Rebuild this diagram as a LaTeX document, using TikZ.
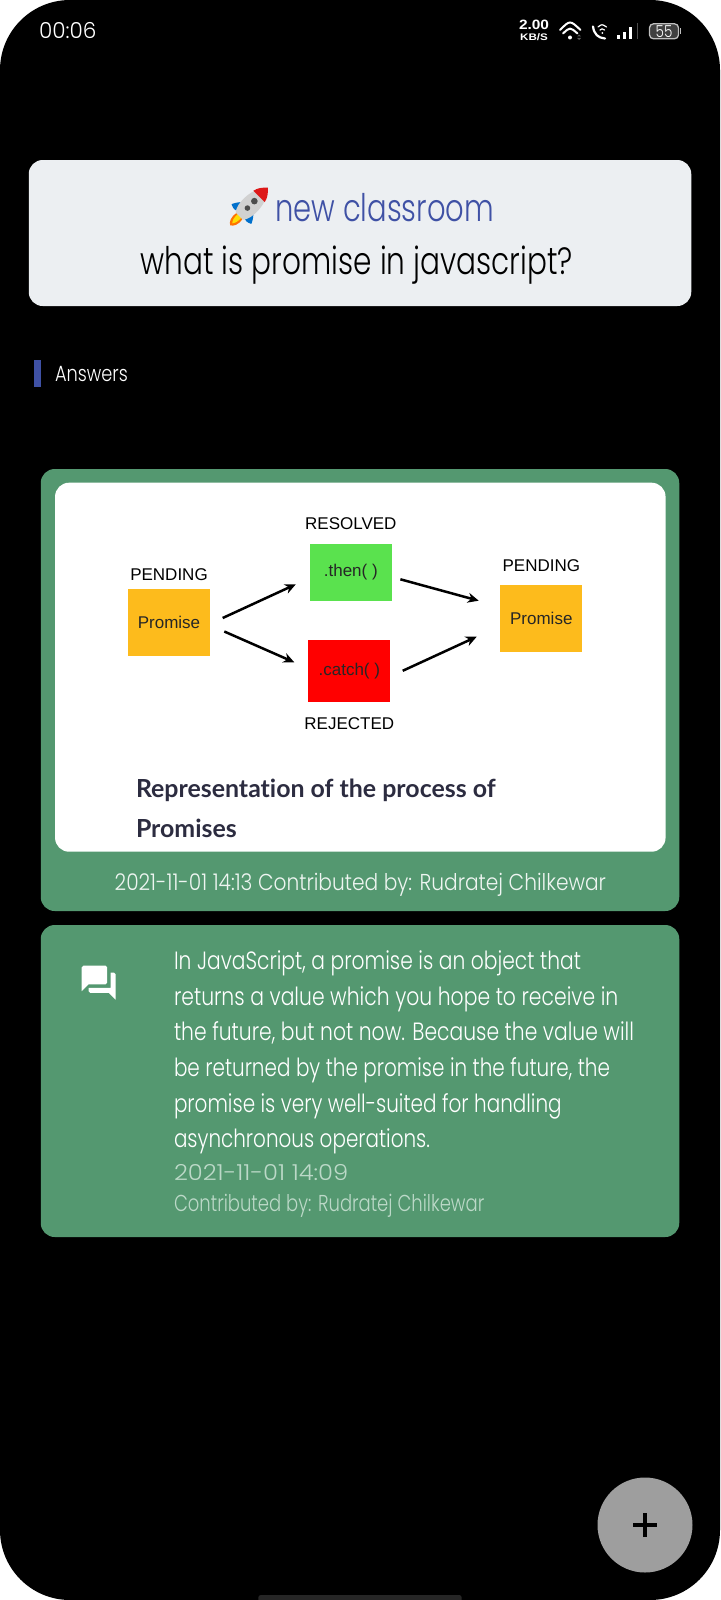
\documentclass[tikz,border=0pt]{standalone}
\usepackage{fontspec}
\usepackage{graphicx}
\setmainfont{Liberation Sans}
\newfontfamily\thinfont{Poppins Light}
\newfontfamily\capfont{Lato}[Ligatures=NoCommon]
\usetikzlibrary{arrows.meta,positioning}
\definecolor{cardgreen}{HTML}{549870}
\definecolor{indigo}{HTML}{3F51A5}
\definecolor{panelgrey}{HTML}{ECEFF2}
\definecolor{amber}{HTML}{FDBB1C}
\definecolor{limeok}{HTML}{5AE24E}
\definecolor{metagreen}{HTML}{BCD9C8}
\definecolor{capink}{HTML}{2C2C40}
\newcommand{\fs}[1]{\fontsize{#1}{#1}\selectfont}
% squeeze a line sideways to the width it has on the screen
\newcommand{\fitw}[2]{\resizebox{#1pt}{\height}{#2}}

\begin{document}
\begin{tikzpicture}[x=1pt,y=-1pt,inner sep=0pt,outer sep=0pt,node distance=7pt,
  panel/.style={fill=#1,rounded corners=14pt},
  box/.style={minimum width=82pt,font=\fs{17},text=black!85},
  state/.style={font=\fs{17},text=black},
  arrowline/.style={draw=black,line width=2.5pt,-{Stealth[length=11pt,width=10pt]}},
  thin/.style={text=white,font=\thinfont\fs{#1},anchor=base west},
  icon/.style={draw=white,line width=2pt,line cap=round}]
  \useasboundingbox (0,0) rectangle (720,1600);
  \fill[white] (0,0) rectangle (720,1600);
  \fill[black,rounded corners=70pt] (0,0) rectangle (720,1600);

  % status bar
  \node[thin=22] (clock) at (39,38.3) {\fitw{57.4}{00:06}};
  \node[anchor=base,text=white,font=\bfseries\fs{13.5}] (rate) at (534,30) {\fitw{30}{2.00}};
  \node[anchor=base,text=white,font=\bfseries\fs{9.5}] (unit) at (534,40.5) {\fitw{27.7}{KB/S}};
  \draw[icon] (560,30) .. controls (570,20) .. (580.5,30);
  \draw[icon] (563,33.5) .. controls (570,27) .. (577.5,33.5);
  \fill[white] (570,37.5) circle (2pt);
  \fill[black!65] (579,34.5) -- (581,36.5) -- (577,36.5) -- cycle (579,40) -- (581,38) -- (577,38) -- cycle;
  \draw[icon,line width=2.2pt] (593,26.5) .. controls (594,34) and (598,38) .. (605,38.5);
  \draw[icon,line width=1.2pt] (598,27) .. controls (602,24) .. (606.5,27);
  \draw[icon,line width=1.2pt] (600,30) .. controls (602,28.5) .. (604.5,30);
  \fill[white] (602.3,33) circle (1pt);
  \foreach \bx/\by in {618.3/35,624.3/32,630.7/27.5}
    \fill[white] (\bx-1.3,\by) rectangle (\bx+1.3,39);
  \fill[black!70] (636.5,23.5) rectangle (638,39);
  \node[draw=black!25,fill=black!75,line width=1.3pt,rounded corners=4pt,minimum width=29pt,minimum height=15pt,
    text=white,font=\thinfont\fs{16.5}] (batt) at (664,31.3) {\fitw{16.7}{55}};
  \fill[black!25] (679.5,28) rectangle (681,34.5);

  % question panel
  \node[panel=panelgrey,minimum width=662.5pt,minimum height=146pt] (head) at (360,233) {};
  \begin{scope}[shift={(248.5,207)},rotate=45]
    \fill[orange!90!red] (-12,-4) .. controls (-20,-6) and (-24,-3) .. (-26,0) .. controls (-24,3) and (-20,6) .. (-12,4) -- cycle;
    \fill[yellow!80!orange] (-12,-2.5) .. controls (-17,-3) and (-21,-2) .. (-23,0) .. controls (-21,2) and (-17,3) .. (-12,2.5) -- cycle;
    \fill[blue!45!cyan!80!black] (0,-7) .. controls (-5,-12) and (-8,-13) .. (-10,-14) .. controls (-12,-10) and (-12,-7) .. (-11,-5) -- cycle;
    \fill[blue!45!cyan!80!black] (0,7) .. controls (-5,12) and (-8,13) .. (-10,14) .. controls (-12,10) and (-12,7) .. (-11,5) -- cycle;
    \fill[black!18] (27,0) .. controls (18,-9) and (6,-10) .. (-3,-9) .. controls (-7,-8.5) and (-11,-7) .. (-13,-5) -- (-13,5) .. controls (-11,7) and (-7,8.5) .. (-3,9) .. controls (6,10) and (18,9) .. (27,0) -- cycle;
    \fill[red!85!black!90] (27.5,0) .. controls (23,-4.5) and (20,-7) .. (15,-8) -- (15,8) .. controls (20,7) and (23,4.5) .. (27.5,0) -- cycle;
    \fill[black!70] (8.3,0) circle (3.3pt) (-1.5,0) circle (2.8pt);
  \end{scope}
  \node[thin=38,text=indigo] (room) at (275,221.5) {\fitw{219}{new classroom}};
  \node[thin=38,text=black] (quest) at (140.5,274.5) {\fitw{432.5}{what is promise in javascript?}};

  % section title
  \fill[indigo] (34,359.5) rectangle (41,387);
  \node[thin=22] (answers) at (55,381) {\fitw{72.8}{Answers}};

  % picture card
  \node[panel=cardgreen,minimum width=638.5pt,minimum height=442pt] (piccard) at (360,690) {};
  \node[panel=white,minimum width=610.5pt,minimum height=369pt] (sheet) at (360.3,667.2) {};
  \node[box,fill=amber,minimum height=66.5pt] (pendl) at (169,622.5) {Promise};
  \node[box,fill=limeok,minimum height=57pt] (thenb) at (350.8,572.3) {.then( )};
  \node[box,fill=red,minimum height=62.5pt] (catchb) at (349.3,670.8) {.catch( )};
  \node[box,fill=amber,minimum height=66.5pt] (pendr) at (541.3,618.3) {Promise};
  \node[state,above=9pt of pendl] (pendltxt) {PENDING};
  \node[state,above=14pt of thenb] (resolved) {RESOLVED};
  \node[state,below=16pt of catchb] (rejected) {REJECTED};
  \node[state,above=13pt of pendr] (pendrtxt) {PENDING};
  \draw[arrowline] ([shift={(12.7,-4.5)}]pendl.east) -- ([shift={(-14,12)}]thenb.west);
  \draw[arrowline] ([shift={(14.3,9)}]pendl.east) -- ([shift={(-14,-8.5)}]catchb.west);
  \draw[arrowline] ([shift={(8.6,7)}]thenb.east) -- ([shift={(-21.6,-17.6)}]pendr.west);
  \draw[arrowline] ([shift={(12.4,0)}]catchb.east) -- ([shift={(-23.6,18.4)}]pendr.west);
  \node[anchor=base west,text=capink,font=\capfont\bfseries\fs{24.9}] (capa) at (136,797.5) {Representation of the process of};
  \node[anchor=base west,text=capink,font=\capfont\bfseries\fs{24.9}] (capb) at (136,837.5) {Promises};
  \node[thin=23,text=white!90!cardgreen] (stamp) at (114.7,890) {\fitw{491.3}{2021-11-01 14:13 Contributed by: Rudratej Chilkewar}};

  % answer card
  \node[panel=cardgreen,minimum width=638.5pt,minimum height=312pt] (anscard) at (360,1081) {};
  \fill[white,shift={(78.3,962.3)},x=1.7pt,y=-1.7pt] (21,6) -- (19,6) -- (19,15) -- (6,15) -- (6,17) .. controls (6,17.55) and (6.45,18) .. (7,18) -- (18,18) -- (22,22) -- (22,7) .. controls (22,6.45) and (21.55,6) .. (21,6) -- cycle
    (17,12) -- (17,3) .. controls (17,2.45) and (16.55,2) .. (16,2) -- (3,2) .. controls (2.45,2) and (2,2.45) .. (2,3) -- (2,17) -- (6,13) -- (16,13) .. controls (16.55,13) and (17,12.55) .. (17,12) -- cycle;
  \foreach \ly/\lw/\ltxt [count=\li] in {969.3/407/{In JavaScript, a promise is an object that},
      1005/444.3/{returns a value which you hope to receive in},
      1040.7/460/{the future, but not now. Because the value will},
      1076/436/{be returned by the promise in the future, the},
      1112.3/387.7/{promise is very well-suited for handling},
      1147.7/256/{asynchronous operations.}}
    \node[thin=25] (line\li) at (174,\ly) {\fitw{\lw}{\ltxt}};
  \node[thin=22,text=metagreen] (date) at (174,1180) {\fitw{174.3}{2021-11-01 14:09}};
  \node[thin=23,text=metagreen] (author) at (174,1211.7) {\fitw{310.3}{Contributed by: Rudratej Chilkewar}};

  % add button and home bar
  \node[circle,fill=black!38,minimum size=95pt] (fab) at (645,1525) {};
  \draw[black,line width=3.2pt] ([xshift=-12pt]fab.center) -- ([xshift=12pt]fab.center);
  \draw[black,line width=3.2pt] ([yshift=-12pt]fab.center) -- ([yshift=12pt]fab.center);
  \fill[black!85,rounded corners=2.5pt] (258.3,1595) rectangle (461.7,1603);
\end{tikzpicture}
\end{document}
